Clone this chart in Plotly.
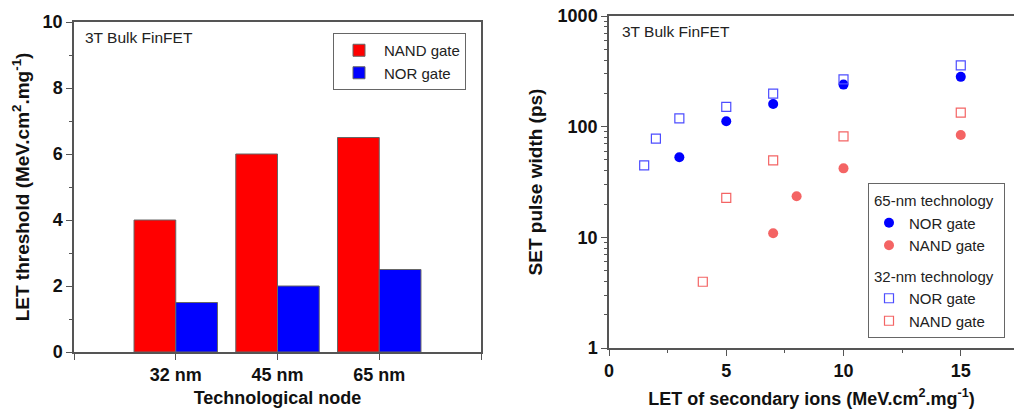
import plotly.graph_objects as go

# ---------------- data ----------------
nodes = ["32 nm", "45 nm", "65 nm"]
nand_threshold = [4.0, 6.0, 6.5]
nor_threshold = [1.5, 2.0, 2.5]

nor65_x = [3, 5, 7, 10, 15]
nor65_y = [53, 112, 160, 240, 282]
nand65_x = [7, 8, 10, 15]
nand65_y = [10.9, 23.5, 42, 84]
nor32_x = [1.5, 2, 3, 5, 7, 10, 15]
nor32_y = [44.7, 78, 119, 151, 199, 267, 358]
nand32_x = [4, 5, 7, 10, 15]
nand32_y = [3.97, 22.7, 49.6, 81.8, 134]

W, H = 1014, 417
FONT = "Liberation Sans, Arial, sans-serif"
AX = "#555555"

fig = go.Figure()

node_pos = list(range(len(nodes)))
fig.add_trace(go.Bar(x=node_pos, y=nand_threshold, name="NAND gate",
                     marker=dict(color="#ff0000", line=dict(color="#666666", width=1)),
                     xaxis="x", yaxis="y", legend="legend"))
fig.add_trace(go.Bar(x=node_pos, y=nor_threshold, name="NOR gate",
                     marker=dict(color="#0000ff", line=dict(color="#666666", width=1)),
                     xaxis="x", yaxis="y", legend="legend"))

fig.add_trace(go.Scatter(x=nor65_x, y=nor65_y, mode="markers", name="NOR gate",
                         marker=dict(symbol="circle", size=10, color="#0000ff"),
                         legendgroup="g65", legendgrouptitle_text="65-nm technology",
                         xaxis="x2", yaxis="y2", legend="legend2"))
fig.add_trace(go.Scatter(x=nand65_x, y=nand65_y, mode="markers", name="NAND gate",
                         marker=dict(symbol="circle", size=10, color="#f46464"),
                         legendgroup="g65",
                         xaxis="x2", yaxis="y2", legend="legend2"))
fig.add_trace(go.Scatter(x=nor32_x, y=nor32_y, mode="markers", name="NOR gate",
                         marker=dict(symbol="square-open", size=9, color="#4d4dff",
                                     line=dict(width=1.2)),
                         legendgroup="g32", legendgrouptitle_text="32-nm technology",
                         xaxis="x2", yaxis="y2", legend="legend2"))
fig.add_trace(go.Scatter(x=nand32_x, y=nand32_y, mode="markers", name="NAND gate",
                         marker=dict(symbol="square-open", size=9, color="#f46464",
                                     line=dict(width=1.2)),
                         legendgroup="g32",
                         xaxis="x2", yaxis="y2", legend="legend2"))

tickfont = dict(family=FONT, size=18, color="#111111", weight="bold")
titlefont = dict(family=FONT, size=18, color="#111111", weight="bold")
ytitlefont = dict(family=FONT, size=19, color="#111111", weight="bold")

common = dict(showline=True, linecolor=AX, linewidth=1.5, ticks="outside",
              tickcolor=AX, tickwidth=1.2, ticklen=6, showgrid=False,
              zeroline=False, tickfont=tickfont, automargin=False)

minor_log = [m * d for d in (1, 10, 100) for m in range(2, 10)]

fig.update_layout(
    width=W, height=H, margin=dict(l=0, r=0, t=0, b=0),
    paper_bgcolor="white", plot_bgcolor="white",
    barmode="group", bargap=0.18, bargroupgap=0,
    font=dict(family=FONT, color="#222222"),
    xaxis=dict(domain=[74 / W, 481 / W], range=[-1, 3],
               tickmode="array", tickvals=[-1, 0, 1, 2, 3],
               ticktext=["", nodes[0], nodes[1], nodes[2], ""],
               title=dict(text="Technological node", font=titlefont, standoff=7),
               mirror=True, anchor="y", **common),
    yaxis=dict(domain=[(H - 352) / H, (H - 22) / H], range=[0, 10], dtick=2,
               minor=dict(dtick=1, ticks="outside", ticklen=3, tickcolor=AX),
               title=dict(text="LET threshold (MeV.cm<sup>2</sup>.mg<sup>-1</sup>)",
                          font=ytitlefont, standoff=8),
               mirror=True, anchor="x", **common),
    xaxis2=dict(domain=[609 / W, 1.0], range=[0, 17.27], dtick=5,
                minor=dict(dtick=2.5, ticks="outside", ticklen=3, tickcolor=AX),
                title=dict(text="LET of secondary ions (MeV.cm<sup>2</sup>.mg<sup>-1</sup>)",
                           font=titlefont, standoff=12),
                mirror=True, anchor="y2", **common),
    yaxis2=dict(domain=[(H - 348) / H, (H - 16) / H], type="log", range=[0, 3],
                tickmode="array", tickvals=[1, 10, 100, 1000],
                ticktext=["1", "10", "100", "1000"],
                minor=dict(tickmode="array", tickvals=minor_log, ticks="outside",
                           ticklen=3, tickcolor=AX),
                title=dict(text="SET pulse width (ps)", font=ytitlefont, standoff=10),
                anchor="x2", **common),
    legend=dict(x=333 / W, y=(H - 33) / H, xanchor="left", yanchor="top",
                bgcolor="white", bordercolor="#666666", borderwidth=1,
                font=dict(family=FONT, size=15, color="#222222"),
                itemwidth=40, tracegroupgap=0),
    legend2=dict(x=868 / W, y=(H - 183) / H, xanchor="left", yanchor="top",
                 bgcolor="white", bordercolor="#666666", borderwidth=1,
                 font=dict(family=FONT, size=15, color="#222222"),
                 grouptitlefont=dict(family=FONT, size=15, color="#222222"),
                 traceorder="grouped", tracegroupgap=8, itemwidth=30),
    annotations=[
        dict(text="3T Bulk FinFET", x=83 / W, y=(H - 37) / H, xref="paper", yref="paper",
             xanchor="left", yanchor="middle", showarrow=False,
             font=dict(family=FONT, size=15.5, color="#222222")),
        dict(text="3T Bulk FinFET", x=620 / W, y=(H - 32) / H, xref="paper", yref="paper",
             xanchor="left", yanchor="middle", showarrow=False,
             font=dict(family=FONT, size=15.5, color="#222222")),
    ],
)

fig.write_html("out.html")
